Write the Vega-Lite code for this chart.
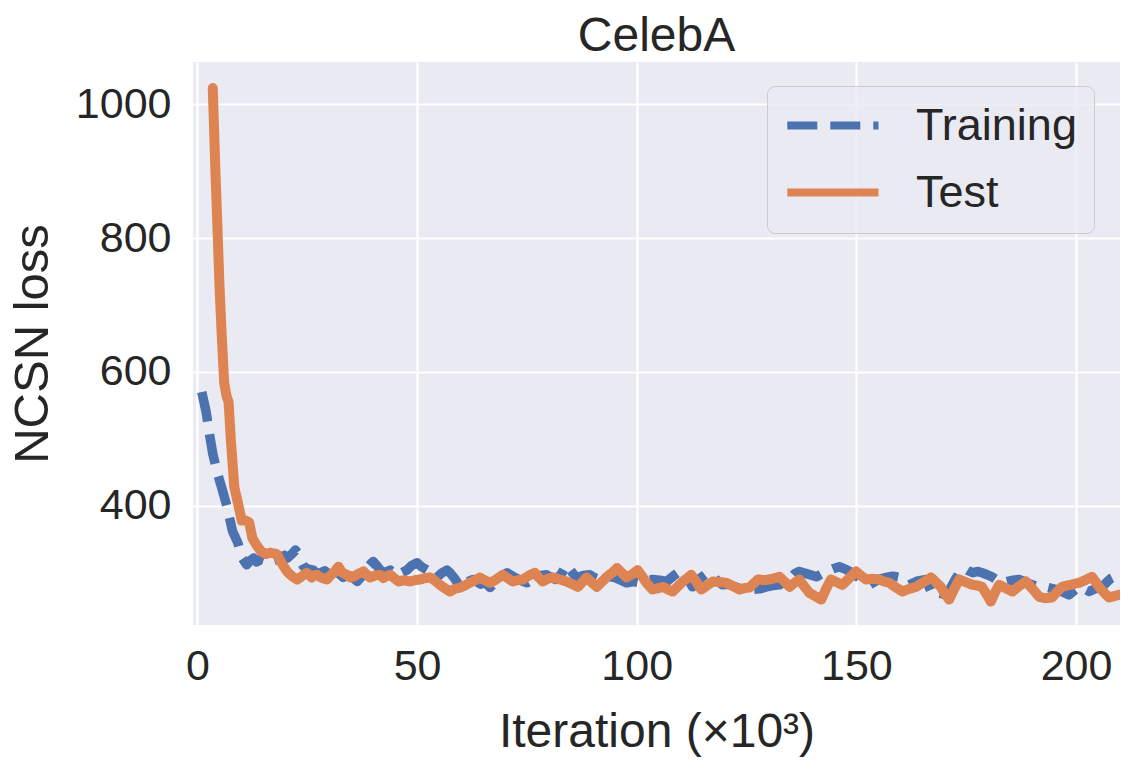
{
  "$schema": "https://vega.github.io/schema/vega-lite/v6.json",
  "autosize": "none",
  "width": 927,
  "height": 563,
  "padding": {"left": 193, "top": 62, "right": 22, "bottom": 150},
  "background": "white",
  "title": {"text": "CelebA", "fontSize": 48, "font": "Liberation Sans", "fontWeight": "normal", "color": "#262626", "baseline": "alphabetic", "offset": -37, "anchor": "middle"},
  "config": {
    "view": {"fill": "#EAEAF2", "stroke": null},
    "font": "Liberation Sans",
    "axis": {"gridColor": "#FFFFFF", "gridWidth": 2.2, "domain": false, "ticks": false, "labelFont": "Liberation Sans", "labelFontSize": 43, "labelColor": "#262626", "titleFont": "Liberation Sans", "titleFontSize": 48, "titleFontWeight": "normal", "titleColor": "#262626"}
  },
  "datasets": {
    "training": [
      {"iter":1.0,"loss":570},{"iter":1.5,"loss":555},{"iter":2.0,"loss":540},{"iter":2.8,"loss":505},{"iter":3.5,"loss":478},{"iter":4.5,"loss":450},{"iter":5.5,"loss":428},{"iter":6.7,"loss":400},{"iter":8.0,"loss":362},{"iter":9.2,"loss":345},{"iter":10.2,"loss":322},{"iter":11.2,"loss":312},{"iter":12.0,"loss":318},{"iter":12.8,"loss":322},{"iter":13.5,"loss":316},{"iter":14.3,"loss":320},{"iter":15.5,"loss":317},{"iter":16.5,"loss":322},{"iter":17.3,"loss":318},{"iter":18.2,"loss":320},{"iter":18.9,"loss":322},{"iter":19.8,"loss":326},{"iter":20.5,"loss":322},{"iter":21.5,"loss":328},{"iter":22.3,"loss":334},{"iter":22.8,"loss":330},{"iter":23.5,"loss":318},{"iter":24.1,"loss":310},{"iter":25.0,"loss":306},{"iter":26.4,"loss":304},{"iter":27.2,"loss":298},{"iter":28.0,"loss":300},{"iter":29.0,"loss":303},{"iter":30.2,"loss":297},{"iter":31.0,"loss":301},{"iter":32.0,"loss":300},{"iter":33.2,"loss":293},{"iter":34.0,"loss":296},{"iter":35.0,"loss":295},{"iter":36.4,"loss":287},{"iter":37.2,"loss":293},{"iter":38.0,"loss":300},{"iter":39.0,"loss":310},{"iter":40.0,"loss":317},{"iter":40.8,"loss":311},{"iter":41.5,"loss":305},{"iter":42.5,"loss":300},{"iter":43.9,"loss":304},{"iter":44.8,"loss":300},{"iter":45.5,"loss":296},{"iter":46.5,"loss":300},{"iter":47.7,"loss":304},{"iter":48.8,"loss":311},{"iter":50.0,"loss":315},{"iter":51.0,"loss":309},{"iter":52.3,"loss":304},{"iter":53.5,"loss":298},{"iter":54.5,"loss":293},{"iter":55.5,"loss":299},{"iter":56.8,"loss":304},{"iter":57.5,"loss":300},{"iter":58.5,"loss":292},{"iter":59.8,"loss":279},{"iter":61.0,"loss":285},{"iter":62.7,"loss":290},{"iter":63.5,"loss":287},{"iter":64.5,"loss":283},{"iter":65.5,"loss":286},{"iter":66.6,"loss":278},{"iter":67.5,"loss":284},{"iter":68.5,"loss":290},{"iter":69.5,"loss":296},{"iter":70.5,"loss":300},{"iter":71.5,"loss":296},{"iter":72.5,"loss":292},{"iter":73.8,"loss":288},{"iter":75.0,"loss":285},{"iter":76.0,"loss":289},{"iter":77.0,"loss":292},{"iter":78.2,"loss":296},{"iter":79.5,"loss":297},{"iter":80.5,"loss":293},{"iter":81.5,"loss":290},{"iter":82.8,"loss":298},{"iter":84.0,"loss":312},{"iter":84.8,"loss":305},{"iter":85.6,"loss":298},{"iter":86.4,"loss":293},{"iter":87.8,"loss":296},{"iter":89.3,"loss":297},{"iter":90.3,"loss":293},{"iter":91.5,"loss":290},{"iter":92.7,"loss":292},{"iter":93.9,"loss":294},{"iter":95.0,"loss":293},{"iter":96.0,"loss":290},{"iter":97.7,"loss":285},{"iter":99.2,"loss":287},{"iter":100.7,"loss":285},{"iter":102.2,"loss":288},{"iter":103.6,"loss":290},{"iter":105.2,"loss":289},{"iter":106.8,"loss":287},{"iter":108.5,"loss":296},{"iter":110.2,"loss":304},{"iter":111.3,"loss":295},{"iter":112.7,"loss":279},{"iter":113.5,"loss":285},{"iter":114.5,"loss":292},{"iter":116.1,"loss":300},{"iter":117.0,"loss":296},{"iter":118.0,"loss":290},{"iter":119.5,"loss":282},{"iter":120.8,"loss":283},{"iter":122.0,"loss":280},{"iter":124.1,"loss":275},{"iter":125.2,"loss":278},{"iter":126.4,"loss":275},{"iter":128.0,"loss":276},{"iter":129.5,"loss":279},{"iter":131.0,"loss":281},{"iter":132.5,"loss":282},{"iter":133.8,"loss":287},{"iter":135.0,"loss":292},{"iter":136.0,"loss":299},{"iter":137.0,"loss":302},{"iter":139.0,"loss":298},{"iter":140.9,"loss":294},{"iter":142.0,"loss":298},{"iter":143.2,"loss":302},{"iter":144.7,"loss":306},{"iter":146.1,"loss":309},{"iter":147.6,"loss":305},{"iter":149.1,"loss":300},{"iter":151.0,"loss":290},{"iter":152.0,"loss":286},{"iter":153.0,"loss":282},{"iter":154.0,"loss":286},{"iter":155.0,"loss":290},{"iter":156.8,"loss":293},{"iter":158.3,"loss":295},{"iter":159.8,"loss":293},{"iter":161.0,"loss":287},{"iter":162.0,"loss":282},{"iter":164.0,"loss":288},{"iter":165.9,"loss":290},{"iter":166.6,"loss":278},{"iter":167.3,"loss":267},{"iter":168.8,"loss":270},{"iter":170.5,"loss":267},{"iter":171.5,"loss":278},{"iter":172.5,"loss":290},{"iter":173.5,"loss":300},{"iter":174.5,"loss":307},{"iter":175.5,"loss":303},{"iter":176.5,"loss":300},{"iter":177.5,"loss":302},{"iter":178.6,"loss":300},{"iter":179.8,"loss":297},{"iter":180.9,"loss":294},{"iter":182.0,"loss":289},{"iter":183.2,"loss":285},{"iter":185.0,"loss":288},{"iter":187.0,"loss":290},{"iter":188.2,"loss":287},{"iter":189.5,"loss":283},{"iter":190.6,"loss":281},{"iter":191.6,"loss":279},{"iter":193.5,"loss":278},{"iter":195.5,"loss":275},{"iter":197.0,"loss":271},{"iter":198.4,"loss":267},{"iter":199.5,"loss":273},{"iter":200.7,"loss":279},{"iter":201.8,"loss":276},{"iter":203.0,"loss":272},{"iter":204.0,"loss":275},{"iter":205.0,"loss":278},{"iter":206.4,"loss":282},{"iter":207.3,"loss":288},{"iter":208.0,"loss":292},{"iter":209.5,"loss":297},{"iter":210.5,"loss":300}
    ],
    "test": [
      {"iter":3.5,"loss":1024},{"iter":4.1,"loss":900},{"iter":4.6,"loss":810},{"iter":5.0,"loss":733},{"iter":5.5,"loss":660},{"iter":6.1,"loss":584},{"iter":6.6,"loss":565},{"iter":7.1,"loss":555},{"iter":7.6,"loss":500},{"iter":8.4,"loss":428},{"iter":9.2,"loss":405},{"iter":10.1,"loss":378},{"iter":11.0,"loss":378},{"iter":11.8,"loss":375},{"iter":12.5,"loss":352},{"iter":13.4,"loss":342},{"iter":14.5,"loss":332},{"iter":15.6,"loss":328},{"iter":16.6,"loss":330},{"iter":18.1,"loss":328},{"iter":18.9,"loss":318},{"iter":19.6,"loss":310},{"iter":20.4,"loss":302},{"iter":21.5,"loss":295},{"iter":22.7,"loss":290},{"iter":23.4,"loss":293},{"iter":24.0,"loss":296},{"iter":24.9,"loss":300},{"iter":26.0,"loss":293},{"iter":26.6,"loss":296},{"iter":27.2,"loss":297},{"iter":27.8,"loss":294},{"iter":28.5,"loss":292},{"iter":29.5,"loss":290},{"iter":30.3,"loss":296},{"iter":31.0,"loss":300},{"iter":32.1,"loss":309},{"iter":33.0,"loss":300},{"iter":34.0,"loss":297},{"iter":34.8,"loss":293},{"iter":35.5,"loss":294},{"iter":36.5,"loss":298},{"iter":37.8,"loss":302},{"iter":38.6,"loss":297},{"iter":39.3,"loss":293},{"iter":40.5,"loss":296},{"iter":41.6,"loss":297},{"iter":42.3,"loss":292},{"iter":43.0,"loss":295},{"iter":43.9,"loss":297},{"iter":44.8,"loss":292},{"iter":45.8,"loss":287},{"iter":47.0,"loss":289},{"iter":48.4,"loss":287},{"iter":49.5,"loss":289},{"iter":50.7,"loss":290},{"iter":51.8,"loss":292},{"iter":53.0,"loss":293},{"iter":54.1,"loss":288},{"iter":55.2,"loss":282},{"iter":56.3,"loss":277},{"iter":57.5,"loss":272},{"iter":58.6,"loss":276},{"iter":59.8,"loss":278},{"iter":60.9,"loss":281},{"iter":62.0,"loss":285},{"iter":63.2,"loss":289},{"iter":64.3,"loss":293},{"iter":65.4,"loss":289},{"iter":66.6,"loss":285},{"iter":68.0,"loss":290},{"iter":69.5,"loss":297},{"iter":70.6,"loss":292},{"iter":71.8,"loss":287},{"iter":73.0,"loss":289},{"iter":74.1,"loss":290},{"iter":75.5,"loss":296},{"iter":76.8,"loss":300},{"iter":77.7,"loss":293},{"iter":78.6,"loss":287},{"iter":79.7,"loss":291},{"iter":80.9,"loss":293},{"iter":82.5,"loss":290},{"iter":84.0,"loss":287},{"iter":85.3,"loss":283},{"iter":86.6,"loss":279},{"iter":87.6,"loss":286},{"iter":88.6,"loss":293},{"iter":89.7,"loss":286},{"iter":90.9,"loss":279},{"iter":92.0,"loss":286},{"iter":93.2,"loss":294},{"iter":94.4,"loss":300},{"iter":95.5,"loss":307},{"iter":96.6,"loss":300},{"iter":97.7,"loss":293},{"iter":99.0,"loss":298},{"iter":100.2,"loss":304},{"iter":101.2,"loss":295},{"iter":102.2,"loss":285},{"iter":103.6,"loss":275},{"iter":104.8,"loss":277},{"iter":106.0,"loss":279},{"iter":107.1,"loss":275},{"iter":108.2,"loss":272},{"iter":109.4,"loss":280},{"iter":110.5,"loss":287},{"iter":111.5,"loss":292},{"iter":112.4,"loss":297},{"iter":113.5,"loss":287},{"iter":114.7,"loss":275},{"iter":116.0,"loss":281},{"iter":117.3,"loss":287},{"iter":118.8,"loss":286},{"iter":120.4,"loss":285},{"iter":121.9,"loss":280},{"iter":123.4,"loss":275},{"iter":124.5,"loss":277},{"iter":125.7,"loss":278},{"iter":126.6,"loss":284},{"iter":127.6,"loss":290},{"iter":128.9,"loss":289},{"iter":130.2,"loss":290},{"iter":131.4,"loss":292},{"iter":132.5,"loss":294},{"iter":133.6,"loss":287},{"iter":134.8,"loss":279},{"iter":135.9,"loss":285},{"iter":137.0,"loss":290},{"iter":138.1,"loss":280},{"iter":139.3,"loss":270},{"iter":140.6,"loss":265},{"iter":142.0,"loss":260},{"iter":143.1,"loss":276},{"iter":144.2,"loss":290},{"iter":145.5,"loss":286},{"iter":146.8,"loss":282},{"iter":148.4,"loss":292},{"iter":149.9,"loss":302},{"iter":151.0,"loss":296},{"iter":152.2,"loss":290},{"iter":153.7,"loss":291},{"iter":155.2,"loss":290},{"iter":156.3,"loss":287},{"iter":157.5,"loss":285},{"iter":159.0,"loss":278},{"iter":160.5,"loss":272},{"iter":162.0,"loss":276},{"iter":163.6,"loss":279},{"iter":165.3,"loss":286},{"iter":167.0,"loss":293},{"iter":168.1,"loss":286},{"iter":169.2,"loss":279},{"iter":170.1,"loss":269},{"iter":171.1,"loss":260},{"iter":172.2,"loss":275},{"iter":173.4,"loss":290},{"iter":174.9,"loss":286},{"iter":176.4,"loss":282},{"iter":177.5,"loss":281},{"iter":178.6,"loss":279},{"iter":179.6,"loss":268},{"iter":180.6,"loss":257},{"iter":181.5,"loss":270},{"iter":182.5,"loss":282},{"iter":184.0,"loss":277},{"iter":185.5,"loss":272},{"iter":187.0,"loss":280},{"iter":188.6,"loss":287},{"iter":190.1,"loss":276},{"iter":191.6,"loss":264},{"iter":193.0,"loss":262},{"iter":194.5,"loss":263},{"iter":195.6,"loss":271},{"iter":196.8,"loss":279},{"iter":198.7,"loss":282},{"iter":200.7,"loss":285},{"iter":202.1,"loss":289},{"iter":203.6,"loss":294},{"iter":204.4,"loss":287},{"iter":205.2,"loss":279},{"iter":206.3,"loss":271},{"iter":207.5,"loss":263},{"iter":208.6,"loss":265},{"iter":209.8,"loss":267},{"iter":210.5,"loss":268}
    ]
  },
  "layer": [
    {
      "data": {"name": "training"},
      "mark": {"type": "line", "strokeWidth": 9.5, "clip": true, "strokeJoin": "round", "strokeCap": "butt"},
      "encoding": {
        "color": {"datum": "Training", "type": "nominal"},
        "strokeDash": {"datum": "Training", "type": "nominal"}
      }
    },
    {
      "data": {"name": "test"},
      "mark": {"type": "line", "strokeWidth": 10, "clip": true, "strokeJoin": "round", "strokeCap": "round"},
      "encoding": {
        "color": {"datum": "Test", "type": "nominal"},
        "strokeDash": {"datum": "Test", "type": "nominal"}
      }
    }
  ],
  "encoding": {
    "x": {"field": "iter", "type": "quantitative", "scale": {"domain": [-1, 210], "nice": false, "zero": false},
          "axis": {"values": [0, 50, 100, 150, 200], "title": "Iteration (×10³)", "labelPadding": 20, "titlePadding": 20}},
    "y": {"field": "loss", "type": "quantitative", "scale": {"domain": [222, 1063], "nice": false, "zero": false},
          "axis": {"values": [400, 600, 800, 1000], "format": "d", "title": "NCSN loss", "labelPadding": 22, "titlePadding": 18, "titleFontSize": 49}},
    "color": {"type": "nominal",
              "scale": {"domain": ["Training", "Test"], "range": ["#4C72B0", "#DD8452"]},
              "legend": {"title": null, "orient": "none", "legendX": 574, "legendY": 24,
                         "symbolType": "M-1.6,0L6.0,0", "symbolSize": 576, "symbolStrokeWidth": 8,
                         "labelFont": "Liberation Sans", "labelFontSize": 45, "labelColor": "#262626", "labelOffset": 87, "labelLimit": 400,
                         "padding": 17, "rowPadding": 21, "fillColor": "rgba(234,234,242,0.8)", "strokeColor": "#CCCCCC", "cornerRadius": 8}},
    "strokeDash": {"type": "nominal",
                   "scale": {"domain": ["Training", "Test"], "range": [[30, 13], [1, 0]]}}
  }
}
